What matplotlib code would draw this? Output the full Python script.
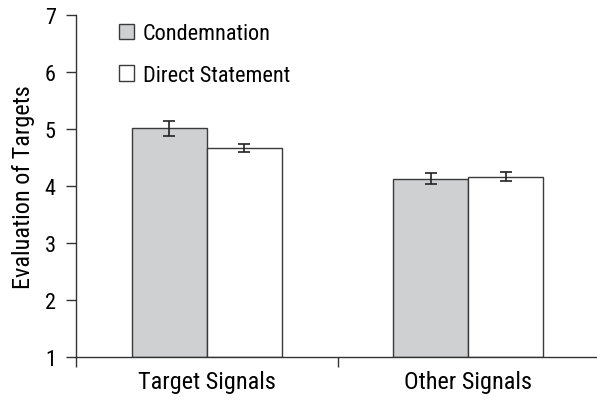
import matplotlib
matplotlib.use("Agg")
import matplotlib.pyplot as plt
import numpy as np
from matplotlib.patches import Patch

plt.rcParams['font.family'] = ['Roboto Condensed', 'DejaVu Sans']

categories = ["Target Signals", "Other Signals"]
condemnation = [5.01, 4.13]
condemnation_err = [0.13, 0.10]
direct = [4.67, 4.16]
direct_err = [0.07, 0.08]

fig = plt.figure(figsize=(5.97, 4.02), dpi=100)
ax = fig.add_axes([76 / 597, 1 - 358 / 402, 523 / 597, 342 / 402])

x = np.arange(len(categories)) + 0.5
w = 0.287
edge = "#3a3a3a"
err_kw = dict(ecolor="#222222", elinewidth=1.2, capsize=4, capthick=1.2)

ax.bar(x - w / 2, np.array(condemnation) - 1, w, bottom=1, color="#cfd0d2",
       edgecolor=edge, linewidth=1.0, yerr=condemnation_err, error_kw=err_kw,
       label="Condemnation")
ax.bar(x + w / 2, np.array(direct) - 1, w, bottom=1, color="white",
       edgecolor=edge, linewidth=1.0, yerr=direct_err, error_kw=err_kw,
       label="Direct Statement")

ax.set_ylim(1, 7)
ax.set_xlim(0, 2)
ax.set_yticks(range(1, 8))
ax.set_xticks([0, 1, 2])
ax.set_xticklabels([])
ax.set_xticks(x, minor=True)
ax.set_xticklabels(categories, minor=True)
ax.tick_params(axis="x", which="minor", length=0, pad=9, labelsize=17.5)
ax.tick_params(axis="x", which="major", length=7, width=1, color="#333333")
ax.tick_params(axis="y", length=7, width=1, color="#333333", pad=7.5, labelsize=16)

for s in ["top", "right"]:
    ax.spines[s].set_visible(False)
for s in ["left", "bottom"]:
    ax.spines[s].set_color("#333333")
    ax.spines[s].set_linewidth(1.0)

ax.set_ylabel("Evaluation of Targets", fontsize=17.5, labelpad=7)

handles = [Patch(facecolor="#cfd0d2", edgecolor=edge, linewidth=1.0),
           Patch(facecolor="white", edgecolor=edge, linewidth=1.0)]
fig.legend(handles, ["Condemnation", "Direct Statement"], loc="upper left",
           bbox_to_anchor=(119 / 597, 1 - 24 / 402), frameon=False, fontsize=16,
           handlelength=0.68, handleheight=0.68, handletextpad=0.4,
           labelspacing=0.94, borderpad=0, borderaxespad=0)

fig.savefig("out.png", dpi=100)
